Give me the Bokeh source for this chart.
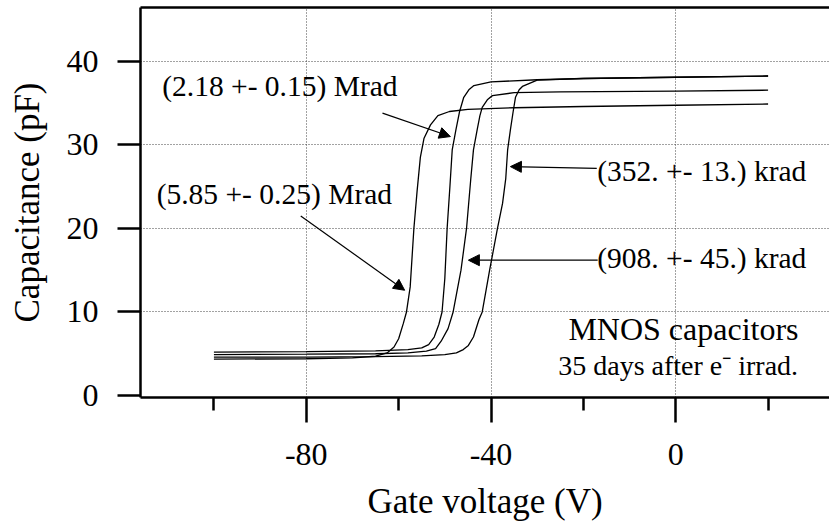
from bokeh.plotting import figure
from bokeh.models import FixedTicker, LinearAxis, Arrow, NormalHead, Range1d
from bokeh.embed import file_html
from bokeh.resources import INLINE
from bokeh.core.properties import value

# ---- data ----
volt_585 = [-100, -80, -70, -65, -62.5, -61, -60, -59, -58.3, -57.5, -56.7, -56.0, -55.3, -54.5, -53.1, -51.5, -49, -45, -35, -20, 0, 20]
cap_585 = [4.35, 4.4, 4.5, 4.7, 5.1, 5.8, 6.8, 8.6, 10, 13, 20, 24.5, 28.5, 30.8, 32.4, 33.5, 34.0, 34.25, 34.45, 34.6, 34.75, 34.9]

volt_218 = [-100, -80, -65, -58, -55, -53.5, -52.3, -51.3, -50.6, -50.0, -49.5, -48.9, -48.4, -47.6, -46.8, -45.9, -44.8, -43.7, -40, -30, -20, 0, 20]
cap_218 = [5.2, 5.25, 5.35, 5.5, 5.7, 6.1, 7.0, 8.5, 10, 14, 20, 25, 29.4, 31.8, 34, 35.7, 36.6, 37.1, 37.55, 37.8, 37.95, 38.1, 38.25]

volt_908 = [-100, -80, -65, -58, -54, -52, -50.8, -49.3, -48.2, -46.5, -45.3, -44.4, -43.8, -43.0, -42.4, -41.9, -40.8, -39.7, -35, -25, 0, 20]
cap_908 = [4.9, 4.95, 5.0, 5.1, 5.3, 5.6, 6.5, 8, 10, 15, 20, 25.8, 29.4, 31.8, 33.5, 34.5, 35.4, 35.9, 36.25, 36.35, 36.45, 36.55]

volt_352 = [-100, -80, -65, -55, -50, -47.5, -46, -44.9, -43.8, -42.6, -41.9, -40.3, -38.6, -37.5, -36.8, -36.4, -35.8, -35.2, -34.7, -33.9, -33.2, -30, -20, 0, 20]
cap_352 = [4.6, 4.6, 4.65, 4.75, 4.9, 5.1, 5.5, 6.0, 7.0, 9.1, 10, 15, 20, 23, 26, 29.4, 31.8, 34, 35.7, 36.6, 37.0, 37.75, 37.95, 38.1, 38.25]

x_major_ticks = [-80, -40, 0]
x_minor_ticks = [-100, -60, -20, 20]
x_tick_labels = ["-80", "-40", "0"]
y_major_ticks = [0, 10, 20, 30, 40]
y_tick_labels = ["0", "10", "20", "30", "40"]

dose_labels = ["(2.18 +- 0.15) Mrad", "(352. +- 13.) krad", "(5.85 +- 0.25) Mrad", "(908. +- 45.) krad"]
dose_label_x = [-111.2, -17.0, -112.4, -17.0]
dose_label_y = [37.1, 26.9, 24.1, 16.5]

arrow_x_start = [-63.5, -17.1, -81.2, -16.9]
arrow_y_start = [33.8, 27.2, 21.5, 16.2]
arrow_x_end = [-48.8, -35.8, -58.7, -44.9]
arrow_y_end = [31.0, 27.4, 12.6, 16.2]

note_lines = ["MNOS capacitors", "35 days after e\u207b irrad."]
note_x = [26.6, 26.5]
note_y = [8.0, 3.6]
note_sizes = ["32px", "28px"]

FONT = "'Liberation Serif', serif"

p = figure(width=829, height=523, output_backend="svg", toolbar_location=None,
           x_range=Range1d(-115.9, 33.3), y_range=Range1d(-0.24, 46.45),
           min_border_left=140, min_border_right=0, min_border_top=7, min_border_bottom=125,
           x_axis_label="Gate voltage (V)", y_axis_label="Capacitance (pF)")
p.outline_line_color = None
p.background_fill_color = "white"
p.border_fill_color = "white"

for ax in (p.xaxis[0], p.yaxis[0]):
    ax.axis_line_width = 2.5
    ax.axis_line_color = "black"
    ax.major_tick_line_width = 2.5
    ax.major_tick_line_color = "black"
    ax.minor_tick_line_width = 2.5
    ax.minor_tick_line_color = "black"
    ax.major_tick_in = 0
    ax.minor_tick_in = 0
    ax.major_label_text_font = FONT
    ax.major_label_text_font_size = "32px"
    ax.major_label_text_color = "black"
    ax.axis_label_text_font = FONT
    ax.axis_label_text_font_size = "35px"
    ax.axis_label_text_font_style = "normal"
    ax.axis_label_text_color = "black"

xa = p.xaxis[0]
xa.ticker = FixedTicker(ticks=x_major_ticks, minor_ticks=x_minor_ticks)
xa.major_label_overrides = {t: s for t, s in zip(x_major_ticks, x_tick_labels)}
xa.major_tick_out = 25
xa.minor_tick_out = 13
xa.major_label_standoff = 21
xa.axis_label_standoff = 14

ya = p.yaxis[0]
ya.ticker = FixedTicker(ticks=y_major_ticks, minor_ticks=[])
ya.major_label_overrides = {t: s for t, s in zip(y_major_ticks, y_tick_labels)}
ya.major_tick_out = 23
ya.minor_tick_out = 0
ya.major_label_standoff = 19
ya.axis_label_standoff = 17

top = LinearAxis(ticker=FixedTicker(ticks=[], minor_ticks=[]), axis_line_width=2.5,
                 axis_line_color="black", major_tick_out=0, major_tick_in=0,
                 minor_tick_out=0, minor_tick_in=0, major_label_text_font_size="0px",
                 major_label_standoff=0, axis_label_standoff=0)
p.add_layout(top, "above")

p.xgrid.ticker = FixedTicker(ticks=x_major_ticks)
p.ygrid.ticker = FixedTicker(ticks=y_major_ticks[1:])
for g in (p.xgrid[0], p.ygrid[0]):
    g.grid_line_color = "#444444"
    g.grid_line_dash = "1 2"
    g.grid_line_width = 1

for vs, cs in ((volt_585, cap_585), (volt_218, cap_218), (volt_908, cap_908), (volt_352, cap_352)):
    p.line(vs, cs, line_color="black", line_width=1.3)

p.text(x=dose_label_x, y=dose_label_y, text=dose_labels, text_font=value(FONT),
       text_font_size="29.5px", text_baseline="alphabetic", text_align="left", text_color="black")

for xs, ys, xe, ye in zip(arrow_x_start, arrow_y_start, arrow_x_end, arrow_y_end):
    p.add_layout(Arrow(end=NormalHead(size=11, fill_color="black", line_color="black", line_width=1),
                       x_start=xs, y_start=ys, x_end=xe, y_end=ye,
                       line_color="black", line_width=1.2))

for t, xv, yv, fs in zip(note_lines, note_x, note_y, note_sizes):
    p.text(x=[xv], y=[yv], text=[t], text_font=value(FONT), text_font_size=fs,
           text_baseline="alphabetic", text_align="right", text_color="black")

open("out.html", "w").write(file_html(p, INLINE))
